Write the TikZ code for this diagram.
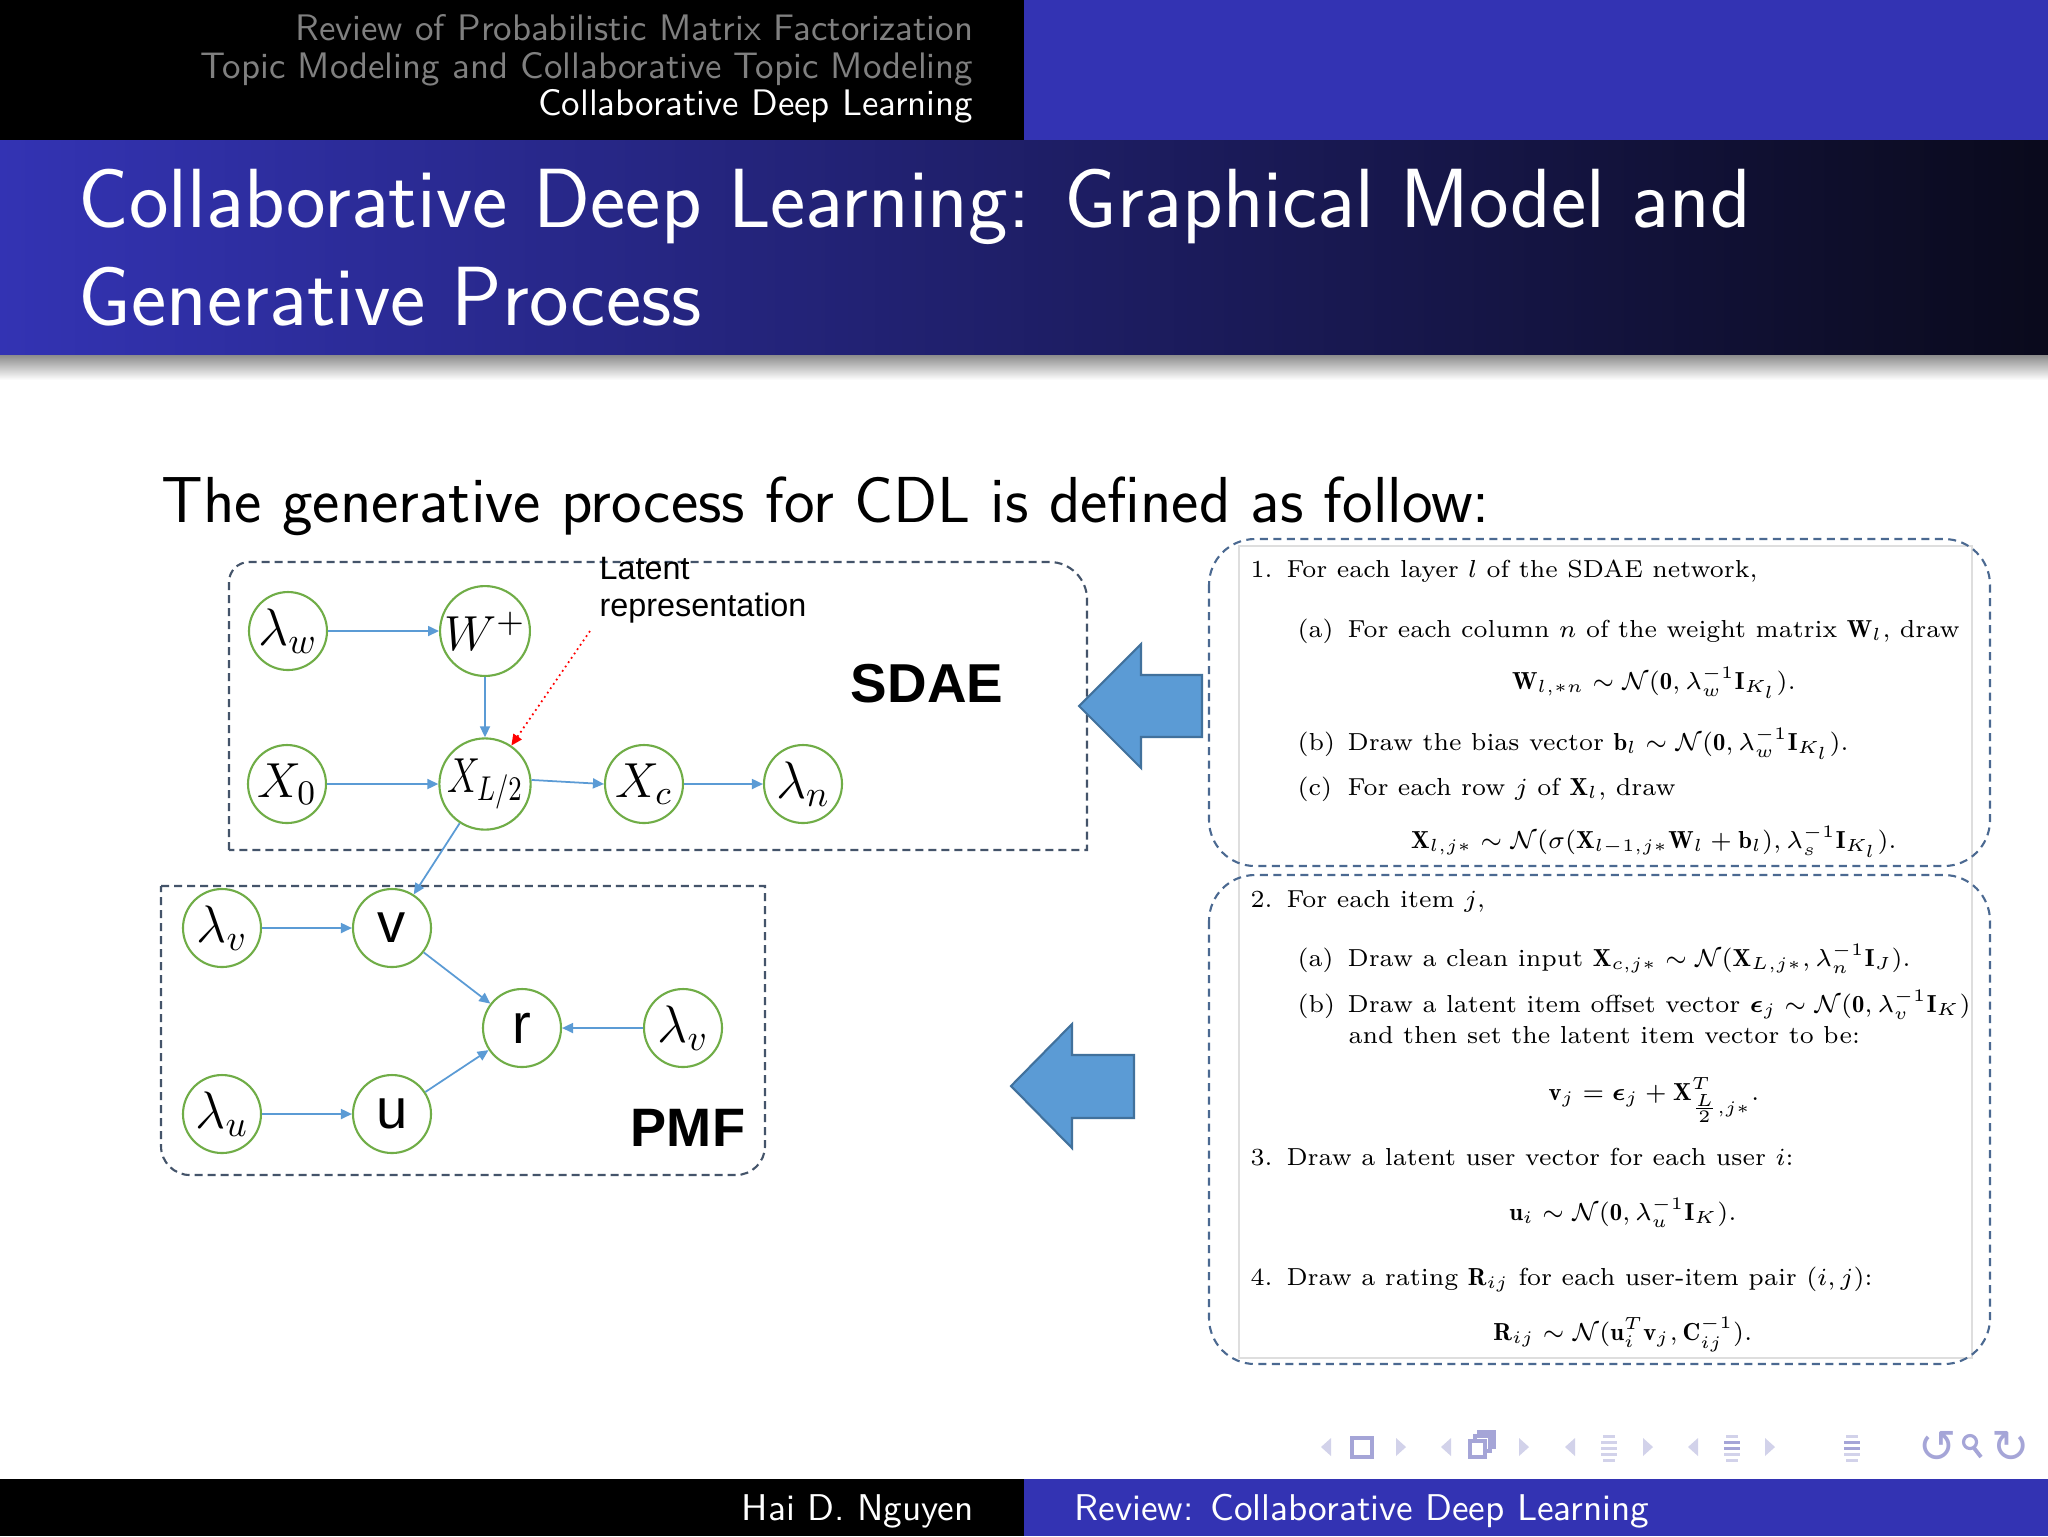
\RequirePackage{fix-cm}
\documentclass[tikz,border=0pt]{standalone}
\usepackage{amsmath,amssymb,bm}
\usepackage{graphicx}
\usepackage{fontspec}
\newfontfamily\arial{Liberation Sans}
\newfontfamily\dejavu{DejaVu Sans}
\usetikzlibrary{arrows.meta,calc}
\definecolor{bblue}{RGB}{51,51,179}
\definecolor{tdark}{RGB}{10,10,28}
\definecolor{hgray}{RGB}{128,128,128}
\definecolor{grn}{RGB}{112,173,71}
\definecolor{conncol}{RGB}{91,155,213}
\definecolor{dbox}{RGB}{68,84,106}
\definecolor{rboxc}{RGB}{75,105,145}
\definecolor{barrow}{RGB}{91,155,213}
\definecolor{barrowd}{RGB}{65,113,156}
\definecolor{navc}{RGB}{165,165,215}
\definecolor{navl}{RGB}{210,210,234}
\newcommand{\sx}[1]{\scalebox{1.0}[1]{#1}}
\tikzset{
  gnode/.style={circle, draw=grn, line width=0.6pt, minimum size=7.8mm, inner sep=0pt, fill=white},
  linkarrow/.style={draw=conncol, line width=0.5pt, -{Triangle[length=1.1mm,width=1mm]}},
  dashbox/.style={draw=dbox, line width=0.6pt, dash pattern=on 0.8mm off 0.5mm},
  rbox/.style={draw=rboxc, line width=0.6pt, dash pattern=on 0.8mm off 0.55mm, rounded corners=4.6mm},
  ptxt/.style={anchor=base west, inner sep=0pt, font=\fontsize{7}{8.4}\selectfont},
  peq/.style={anchor=base, inner sep=0pt, font=\fontsize{7}{8.4}\selectfont},
  hdr/.style={anchor=base east, inner sep=0pt, font=\sffamily\fontsize{10.5}{12}\selectfont},
  ftr/.style={inner sep=0pt, text=white, font=\sffamily\fontsize{10.6}{12}\selectfont},
  ttl/.style={anchor=base west, inner sep=0pt, text=white, font=\sffamily\fontsize{23.9}{28}\selectfont},
  mlab/.style={font=\fontsize{14}{16}\selectfont},
  llab/.style={font=\fontsize{15}{18}\selectfont},
  alab/.style={font=\arial\fontsize{16}{18}\selectfont},
  latlab/.style={anchor=base west, inner sep=0pt, font=\arial\fontsize{9.2}{11}\selectfont},
  blockarrow/.style={fill=barrow, draw=barrowd, line width=0.6pt},
}
\begin{document}
\begin{tikzpicture}[x=0.1mm,y=-0.1mm]
\useasboundingbox (0,0) rectangle (2048,1536);
\fill[white] (0,0) rectangle (2048,1536);
% header
\fill[black] (0,0) rectangle (1024,140);
\fill[bblue] (1024,0) rectangle (2048,140);
\node[hdr, text=hgray] (h1) at (974,40) {Review of Probabilistic Matrix Factorization};
\node[hdr, text=hgray] (h2) at (974,78) {Topic Modeling and Collaborative Topic Modeling};
\node[hdr, text=white] (h3) at (974,115) {Collaborative Deep Learning};
% title
\shade[left color=bblue, right color=tdark] (0,140) rectangle (2048,355);
\shade[top color=black!45, bottom color=white] (0,355) rectangle (2048,380);
\node[ttl] (t1) at (78,227) {Collaborative Deep Learning: Graphical Model and};
\node[ttl] (t2) at (78,325) {Generative Process};
% body sentence
\node[anchor=base west, inner sep=0pt, font=\sffamily\fontsize{18.5}{22}\selectfont] (body) at (161,522) {The generative process for CDL is defined as follow:};

% SDAE box
\draw[dashbox] (229,850) -- (229,582) .. controls (229,571) and (238,562) .. (249,562) -- (1050,562) .. controls (1070,562) and (1087,579) .. (1087,599) -- (1087,850) -- cycle;
% PMF box
\draw[dashbox] (161,886) -- (765,886) -- (765,1146) .. controls (765,1162) and (752,1175) .. (736,1175) -- (190,1175) .. controls (174,1175) and (161,1162) .. (161,1146) -- cycle;

% SDAE nodes
\node[gnode, llab] (lw) at (288,631) {$\lambda_w$};
\node[gnode, mlab] (Wp) at (485,631) {$W^+$};
\node[gnode, mlab] (X0) at (287,784) {$X_0$};
\node[gnode, mlab] (XL) at (485,784) {\scalebox{0.75}[1]{$X_{L/2}$}};
\node[gnode, mlab] (Xc) at (644,784) {$X_c$};
\node[gnode, llab] (ln) at (803,784) {$\lambda_n$};
\node[latlab] (lat1) at (599,579) {Latent};
\node[latlab] (lat2) at (599,616) {representation};
\node[font=\arial\bfseries\fontsize{15.6}{18}\selectfont, inner sep=0pt] (sdae) at (927,684) {SDAE};

% PMF nodes
\node[gnode, llab] (lv) at (222,928) {$\lambda_v$};
\node[gnode, alab] (v) at (392,928) {v};
\node[gnode, alab] (r) at (522,1028) {r};
\node[gnode, llab] (lv2) at (683,1028) {$\lambda_v$};
\node[gnode, llab] (lu) at (222,1114) {$\lambda_u$};
\node[gnode, alab] (u) at (392,1114) {u};
\node[font=\arial\bfseries\fontsize{15.4}{18}\selectfont, inner sep=0pt] (pmf) at (688,1128) {PMF};

% connectors
\draw[linkarrow] (lw) -- (Wp);
\draw[linkarrow] (Wp) -- (XL);
\draw[linkarrow] (X0) -- (XL);
\draw[linkarrow] (XL.5) -- (Xc.west);
\draw[linkarrow] (Xc) -- (ln);
\draw[linkarrow] (XL) -- (v);
\coordinate (latpt) at (590,631);
\draw[red, line width=0.5pt, densely dotted, -{Triangle[length=1.1mm,width=1mm]}] (latpt) -- (XL);
\draw[linkarrow] (lv) -- (v);
\draw[linkarrow] (v) -- (r);
\draw[linkarrow] (lv2) -- (r);
\draw[linkarrow] (lu) -- (u);
\draw[linkarrow] (u) -- (r);

% block arrows
\draw[blockarrow] (1079,706) -- (1141,644) -- (1141,675) -- (1202,675) -- (1202,737) -- (1141,737) -- (1141,768) -- cycle;
\draw[blockarrow] (1011,1086) -- (1072,1024) -- (1072,1055) -- (1134,1055) -- (1134,1118) -- (1072,1118) -- (1072,1148) -- cycle;

% right panel
\draw[black!13, line width=0.4pt] (1239,546) rectangle (1972,1358);
\draw[rbox] (1209,539) rectangle (1990,866);
\draw[rbox] (1209,875) rectangle (1990,1364);

\node[ptxt] (p1) at (1250,577) {\sx{\makebox[10.2pt][l]{1.}For each layer $l$ of the SDAE network,}};
\node[ptxt] (p1a) at (1297,637) {\sx{\makebox[14.2pt][l]{(a)}For each column $n$ of the weight matrix $\mathbf{W}_l$, draw}};
\node[peq] (e1) at (1654,689) {\sx{$\mathbf{W}_{l,*n}\sim\mathcal{N}(\mathbf{0},\lambda_w^{-1}\mathbf{I}_{K_l}).$}};
\node[ptxt] (p1b) at (1297,750) {\sx{\makebox[14.2pt][l]{(b)}Draw the bias vector $\mathbf{b}_l\sim\mathcal{N}(\mathbf{0},\lambda_w^{-1}\mathbf{I}_{K_l})$.}};
\node[ptxt] (p1c) at (1297,795) {\sx{\makebox[14.2pt][l]{(c)}For each row $j$ of $\mathbf{X}_l$, draw}};
\node[peq] (e2) at (1654,848) {\sx{$\mathbf{X}_{l,j*}\sim\mathcal{N}(\sigma(\mathbf{X}_{l-1,j*}\mathbf{W}_l+\mathbf{b}_l),\lambda_s^{-1}\mathbf{I}_{K_l}).$}};

\node[ptxt] (p2) at (1250,907) {\sx{\makebox[10.2pt][l]{2.}For each item $j$,}};
\node[ptxt] (p2a) at (1297,966) {\sx{\makebox[14.2pt][l]{(a)}Draw a clean input $\mathbf{X}_{c,j*}\sim\mathcal{N}(\mathbf{X}_{L,j*},\lambda_n^{-1}\mathbf{I}_J)$.}};
\node[ptxt] (p2b) at (1297,1012) {\sx{\makebox[14.2pt][l]{(b)}Draw a latent item offset vector $\bm{\epsilon}_j\sim\mathcal{N}(\mathbf{0},\lambda_v^{-1}\mathbf{I}_K)$}};
\node[ptxt] (p2b2) at (1348,1043) {\sx{and then set the latent item vector to be:}};
\node[peq] (e3) at (1654,1100) {\sx{$\mathbf{v}_j=\bm{\epsilon}_j+\mathbf{X}^T_{\frac{L}{2},j*}.$}};
\node[ptxt] (p3) at (1250,1165) {\sx{\makebox[10.2pt][l]{3.}Draw a latent user vector for each user $i$:}};
\node[peq] (e4) at (1623,1220) {\sx{$\mathbf{u}_i\sim\mathcal{N}(\mathbf{0},\lambda_u^{-1}\mathbf{I}_K).$}};
\node[ptxt] (p4) at (1250,1285) {\sx{\makebox[10.2pt][l]{4.}Draw a rating $\mathbf{R}_{ij}$ for each user-item pair $(i,j)$:}};
\node[peq] (e5) at (1623,1340) {\sx{$\mathbf{R}_{ij}\sim\mathcal{N}(\mathbf{u}_i^T\mathbf{v}_j,\mathbf{C}_{ij}^{-1}).$}};

% navigation symbols
\foreach \x in {1326,1446,1570,1693} \fill[navl] (\x-5,1447) -- (\x+5,1438) -- (\x+5,1456) -- cycle;
\foreach \x in {1401,1524,1648,1770} \fill[navl] (\x+5,1447) -- (\x-5,1438) -- (\x-5,1456) -- cycle;
\draw[navc, line width=1.1pt] (1352,1438) rectangle (1372,1457);
\draw[navc, line width=0.9pt, fill=white] (1479,1432) rectangle (1494,1447);
\draw[navc, line width=0.9pt, fill=white] (1475,1436) rectangle (1490,1451);
\draw[navc, line width=0.9pt, fill=white] (1470,1441) rectangle (1485,1457);
\foreach \x/\c in {1609/navl,1732/navc,1852/navc} {
  \fill[navl] (\x-6,1435) rectangle (\x+6,1437.5);
  \fill[\c] (\x-8,1441) rectangle (\x+8,1444);
  \fill[\c] (\x-8,1447) rectangle (\x+8,1450);
  \fill[navl] (\x-8,1453) rectangle (\x+8,1456);
  \fill[navl] (\x-6,1459) rectangle (\x+6,1461.5);
}
\node[text=navc, inner sep=0pt, font=\dejavu\fontsize{13}{14}\selectfont] (undo) at (1938,1447) {↺};
\draw[navc, line width=0.9pt] (1970,1442) circle (6.5);
\draw[navc, line width=1.1pt] (1974,1448) -- (1981,1457);
\node[text=navc, inner sep=0pt, font=\dejavu\fontsize{13}{14}\selectfont] (redo) at (2011,1447) {↻};

% footer
\fill[black] (0,1479) rectangle (1024,1536);
\fill[bblue] (1024,1479) rectangle (2048,1536);
\node[ftr, anchor=base east] (f1) at (974,1520) {Hai D. Nguyen};
\node[ftr, anchor=base west] (f2) at (1074,1520) {Review: Collaborative Deep Learning};
\end{tikzpicture}
\end{document}
